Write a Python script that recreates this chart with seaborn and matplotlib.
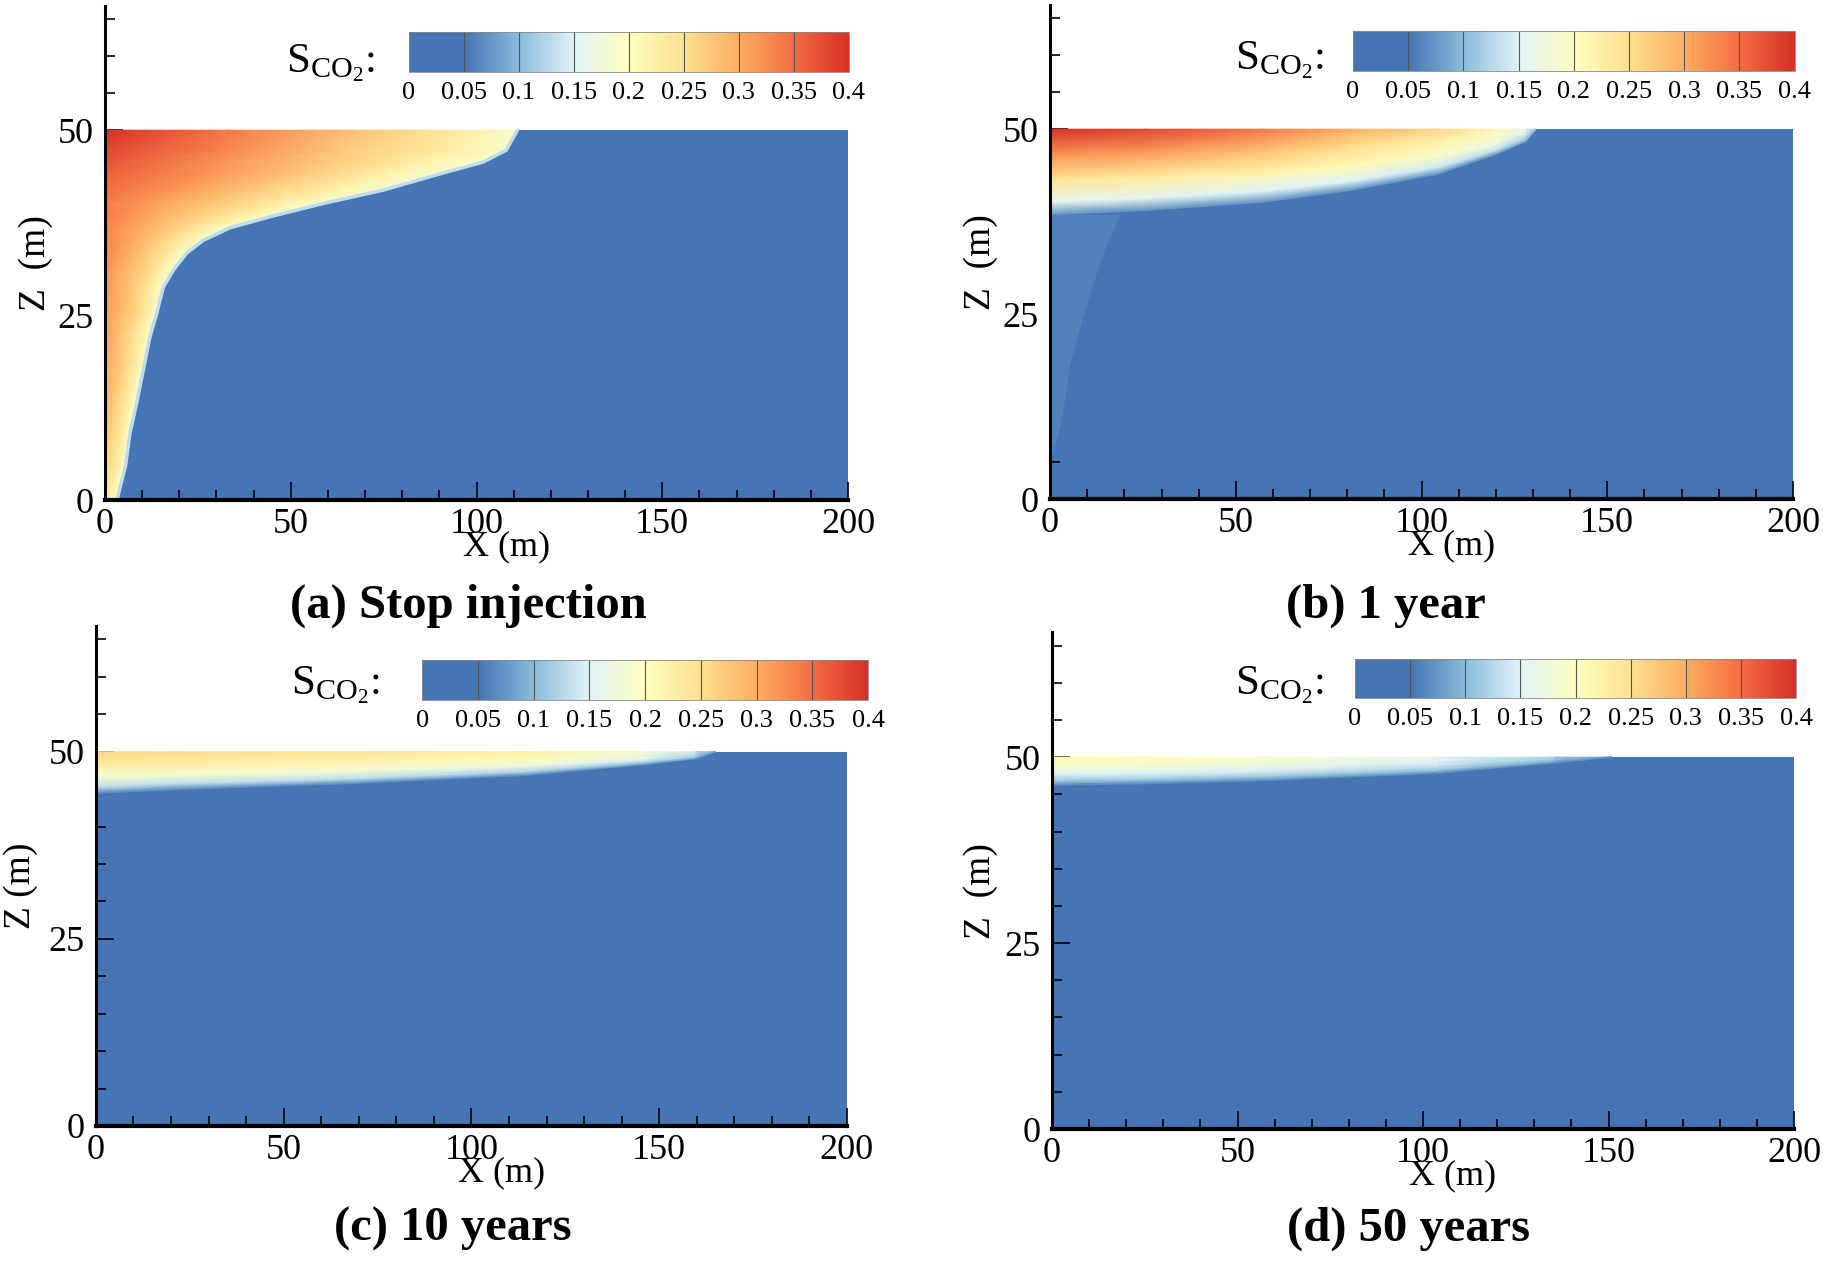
import numpy as np
import matplotlib.pyplot as plt
import seaborn as sns
from matplotlib.colors import Normalize
from matplotlib.cm import ScalarMappable
from matplotlib.ticker import MultipleLocator

# Domain of the model (m)
domain_x = [0, 200]
domain_z = [0, 50]
z_top = 66.8

# Colour scale of CO2 saturation
levels = [0, 0.05, 0.1, 0.15, 0.2, 0.25, 0.3, 0.35, 0.4]
level_labels = ["0", "0.05", "0.1", "0.15", "0.2", "0.25", "0.3", "0.35", "0.4"]
level_colors = ["#4575b4", "#4575b4", "#8abbd9", "#e0f3f8", "#ffffbf",
                "#fee090", "#fdae61", "#f46d43", "#d73027"]

titles = ["(a) Stop injection", "(b) 1 year", "(c) 10 years", "(d) 50 years"]
zlabels = ["Z  (m)", "Z  (m)", "Z (m)", "Z  (m)"]

# sampling fractions across the plume (0 = well side / top, 1 = front)
frac = [0, 0.3, 0.6, 0.85, 1]

# (a) stop injection: front x at each depth, saturation from x=0 to the front
a_front_z = [50, 47.3, 45.7, 44.1, 41.9, 40.1, 38.3, 36.8, 35.1, 33.4, 31.1, 28.8, 25.2, 22.1, 17.6, 13.1, 9, 4.6, 0]
a_front_x = [111, 108, 101.8, 90.2, 74.9, 58.8, 44.4, 33.6, 26.4, 22, 18.4, 15.7, 13.9, 12.1, 10.3, 8.5, 6.7, 5.5, 3.2]
a_sat = [
    [0.40, 0.34, 0.28, 0.23, 0.19],
    [0.38, 0.33, 0.27, 0.23, 0.19],
    [0.37, 0.32, 0.27, 0.22, 0.19],
    [0.36, 0.32, 0.27, 0.22, 0.18],
    [0.35, 0.31, 0.26, 0.22, 0.18],
    [0.34, 0.30, 0.26, 0.22, 0.18],
    [0.34, 0.30, 0.26, 0.22, 0.18],
    [0.33, 0.30, 0.26, 0.22, 0.18],
    [0.33, 0.30, 0.26, 0.22, 0.18],
    [0.33, 0.30, 0.26, 0.22, 0.18],
    [0.32, 0.29, 0.26, 0.22, 0.18],
    [0.32, 0.29, 0.26, 0.22, 0.18],
    [0.31, 0.29, 0.26, 0.22, 0.18],
    [0.31, 0.28, 0.25, 0.22, 0.18],
    [0.30, 0.28, 0.25, 0.22, 0.18],
    [0.29, 0.27, 0.24, 0.21, 0.18],
    [0.28, 0.26, 0.24, 0.21, 0.18],
    [0.26, 0.25, 0.23, 0.21, 0.18],
    [0.23, 0.22, 0.21, 0.20, 0.18],
]

# (b) 1 year: plume bottom at each x, saturation from the top (z=50) to the front
b_front_x = [0, 25.8, 57.3, 80.8, 104.4, 120.2, 128, 130.8]
b_front_z = [38.4, 39.0, 40.1, 41.7, 43.9, 46.6, 48.3, 50]
b_sat = [
    [0.40, 0.32, 0.24, 0.16, 0.07],
    [0.38, 0.31, 0.23, 0.16, 0.07],
    [0.34, 0.28, 0.22, 0.15, 0.07],
    [0.30, 0.25, 0.21, 0.15, 0.07],
    [0.26, 0.22, 0.19, 0.14, 0.07],
    [0.21, 0.19, 0.17, 0.13, 0.07],
    [0.17, 0.15, 0.13, 0.11, 0.07],
    [0.10, 0.10, 0.10, 0.10, 0.10],
]
# lighter wedge below the plume near the well
b_wedge_x = [0, 19, 15, 11.6, 8, 5.4, 3, 0]
b_wedge_z = [38.4, 38.4, 34, 29, 23, 18, 10, 5]
b_wedge_s = 0.06

# (c) 10 years
c_front_x = [0, 21, 67.8, 114.5, 145.7, 159.6, 165]
c_front_z = [44.4, 44.9, 45.7, 46.8, 48.2, 49, 50]
c_sat = [
    [0.26, 0.23, 0.185, 0.13, 0.06],
    [0.255, 0.23, 0.185, 0.13, 0.06],
    [0.245, 0.22, 0.18, 0.13, 0.06],
    [0.225, 0.205, 0.17, 0.12, 0.06],
    [0.19, 0.175, 0.15, 0.11, 0.06],
    [0.14, 0.13, 0.12, 0.10, 0.06],
    [0.08, 0.08, 0.08, 0.08, 0.08],
]

# (d) 50 years
d_front_x = [0, 25.3, 56.8, 104, 135.6, 151]
d_front_z = [46.2, 46.4, 46.8, 47.8, 49.2, 50]
d_sat = [
    [0.21, 0.19, 0.15, 0.11, 0.06],
    [0.205, 0.185, 0.15, 0.11, 0.06],
    [0.19, 0.175, 0.145, 0.105, 0.06],
    [0.16, 0.15, 0.13, 0.10, 0.06],
    [0.12, 0.115, 0.10, 0.08, 0.06],
    [0.07, 0.07, 0.07, 0.07, 0.07],
]

# layout (figure fractions)
ax_rects = [[0.0576, 0.6044, 0.4073, 0.3909], [0.5757, 0.6052, 0.4073, 0.3909],
            [0.0526, 0.1092, 0.4117, 0.3956], [0.5768, 0.1068, 0.4068, 0.3930]]
cbar_rects = [[0.2242, 0.9430, 0.2412, 0.0316], [0.7418, 0.9438, 0.2421, 0.0316],
              [0.2314, 0.4462, 0.2445, 0.0316], [0.7429, 0.4478, 0.2418, 0.0309]]
slabel_pos = [(0.2056, 0.943), (0.726, 0.9454), (0.2083, 0.451), (0.726, 0.451)]
title_pos = [(0.257, 0.521), (0.760, 0.521), (0.248, 0.028), (0.772, 0.028)]
zlabel_x = [-0.094, -0.093, -0.100, -0.096]

sns.set_theme(style="ticks")
plt.rcParams.update({
    'font.family': ['Liberation Serif', 'DejaVu Serif'],
    'mathtext.fontset': 'custom',
    'mathtext.rm': 'Liberation Serif',
    'mathtext.it': 'Liberation Serif:italic',
    'mathtext.bf': 'Liberation Serif:bold',
    'axes.facecolor': 'white',
    'figure.facecolor': 'white',
})

cmap = sns.blend_palette(level_colors, as_cmap=True)
norm = Normalize(vmin=levels[0], vmax=levels[-1])

fig = plt.figure(figsize=(18.24, 12.64), dpi=100)
g = np.array(frac)

for i in range(4):
    ax = fig.add_axes(ax_rects[i])

    # background: no CO2 in the domain
    ax.pcolormesh(domain_x, domain_z, [[0]], cmap=cmap, norm=norm, zorder=0)

    # plume: curvilinear mesh that follows the front
    if i == 0:
        fx = np.array(a_front_x)[:, None]
        X = g[None, :] * fx
        Z = np.repeat(np.array(a_front_z)[:, None], len(frac), axis=1)
        S = np.array(a_sat)
    else:
        fx, fz, sat = [(b_front_x, b_front_z, b_sat),
                       (c_front_x, c_front_z, c_sat),
                       (d_front_x, d_front_z, d_sat)][i - 1]
        X = np.repeat(np.array(fx, dtype=float)[:, None], len(frac), axis=1)
        Z = domain_z[1] - g[None, :] * (domain_z[1] - np.array(fz)[:, None])
        S = np.array(sat)
    ax.pcolormesh(X, Z, S, shading='gouraud', cmap=cmap, norm=norm, zorder=1)

    if i == 0:
        ax.plot(a_front_x, a_front_z, color=cmap(norm(0.13)), lw=2.5, zorder=1.5)
    if i == 1:
        ax.fill(b_wedge_x, b_wedge_z, color=cmap(norm(b_wedge_s)), lw=0, zorder=1.5)

    ax.set_xlim(domain_x[0], domain_x[1])
    ax.set_ylim(domain_z[0], z_top)
    ax.xaxis.set_major_locator(MultipleLocator(50))
    ax.xaxis.set_minor_locator(MultipleLocator(10))
    ax.yaxis.set_major_locator(MultipleLocator(25))
    ax.yaxis.set_minor_locator(MultipleLocator(5))
    ax.tick_params(which='both', direction='in', color='black', width=1.2,
                   labelsize=26, labelcolor='black')
    ax.tick_params(which='major', length=13)
    ax.tick_params(which='minor', length=7)
    ax.tick_params(axis='x', pad=6)
    ax.tick_params(axis='y', pad=8)
    for side in ['top', 'right']:
        ax.spines[side].set_visible(False)
    ax.spines['left'].set_linewidth(2.2)
    ax.spines['bottom'].set_linewidth(3.0)
    ax.spines['left'].set_color('black')
    ax.spines['bottom'].set_color('black')
    ax.patch.set_alpha(0)

    ax.text(0.54, -0.094, "X (m)", transform=ax.transAxes, ha='center', va='center',
            fontsize=26, color='black')
    ax.text(zlabel_x[i], 0.48, zlabels[i], transform=ax.transAxes, ha='center',
            va='center', rotation=90, fontsize=27, color='black')

    # colour bar legend
    cax = fig.add_axes(cbar_rects[i])
    cb = fig.colorbar(ScalarMappable(norm=norm, cmap=cmap), cax=cax,
                      orientation='horizontal', ticks=levels)
    cb.ax.set_xticklabels(level_labels)
    cb.ax.tick_params(length=0, labelsize=19, pad=7, labelcolor='black')
    cb.outline.set_linewidth(0.6)
    cb.outline.set_edgecolor('#888888')
    for t in levels[1:-1]:
        cax.axvline(t, color='#555555', lw=0.8)

    fig.text(slabel_pos[i][0], slabel_pos[i][1], r'$\mathrm{S_{CO_2}}$:', ha='right',
             va='baseline', fontsize=31, color='black')
    fig.text(title_pos[i][0], title_pos[i][1], titles[i], ha='center', va='center',
             fontsize=35, fontweight='bold', color='black')

fig.savefig("out.png", dpi=100)
